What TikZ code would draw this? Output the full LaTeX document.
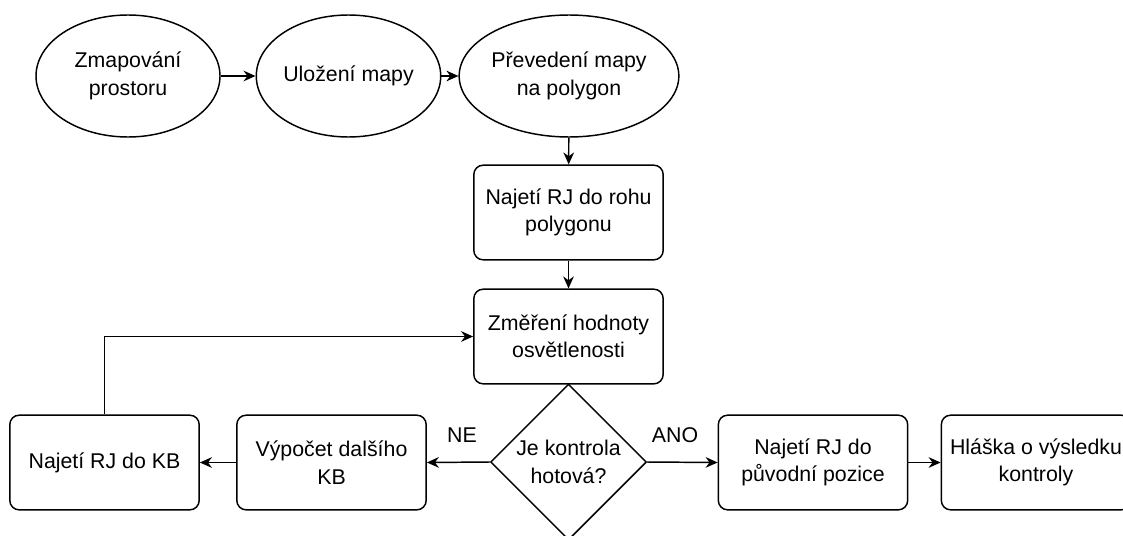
\documentclass[tikz,border=0pt]{standalone}
\usepackage{fontspec}
\setmainfont{Liberation Sans}
\usetikzlibrary{shapes.geometric, arrows.meta}

\begin{document}
\begin{tikzpicture}[x = 0.75pt, y = -0.75pt,
 every node/.style = {font = \fontsize{16}{20.5}\selectfont, align = center},
 ovl/.style = {draw, line width = 1.1pt, ellipse, inner sep = 0pt, minimum width = 138pt, minimum height = 91.5pt},
 box/.style = {draw, line width = 1.1pt, rounded corners = 7pt, minimum width = 142pt, minimum height = 71pt},
 dec/.style = {draw, line width = 1.1pt, diamond, inner sep = 0pt, minimum width = 117pt, minimum height = 117pt},
 arr/.style = {line width = 1.1pt, -{Stealth[length = 9pt, width = 8pt]}}]
 \useasboundingbox (0, 0) rectangle (1123, 535);

 \node[ovl] (ZP) at (128, 76) {Zmapování\\prostoru};
 \node[ovl] (UM) at (348.5, 76) {Uložení mapy};
 \node[ovl] (PM) at (569, 76) {Převedení mapy\\na polygon};

 \node[box] (NR) at (568.5, 212.5) {Najetí RJ do rohu\\polygonu};
 \node[box] (ZH) at (568.5, 336.5) {Změření hodnoty\\osvětlenosti};
 \node[dec] (JK) at (568.5, 462) {Je kontrola\\hotová?};

 \node[box] (VD) at (331.5, 462.5) {Výpočet dalšího\\KB};
 \node[box] (NK) at (104.5, 462.5) {Najetí RJ do KB};
 \node[box] (PP) at (813, 462.5) {Najetí RJ do\\původní pozice};
 \node[box] (HV) at (1036, 462.5) {Hláška o výsledku\\kontroly};

 \draw[arr] (ZP) -- (UM);
 \draw[arr] (UM) -- (PM);
 \draw[arr] (PM) -- (NR);
 \draw[arr] (NR) -- (ZH);
 \draw[arr] (JK.west) -- (VD.east);
 \draw[arr] (VD) -- (NK);
 \draw[arr] (NK.north) |- (ZH.west);
 \draw[arr] (JK.east) -- (PP.west);
 \draw[arr] (PP) -- (HV);

 \node(NE) at (462, 435) {NE};
 \node(ANO) at (675, 435) {ANO};
\end{tikzpicture}
\end{document}
